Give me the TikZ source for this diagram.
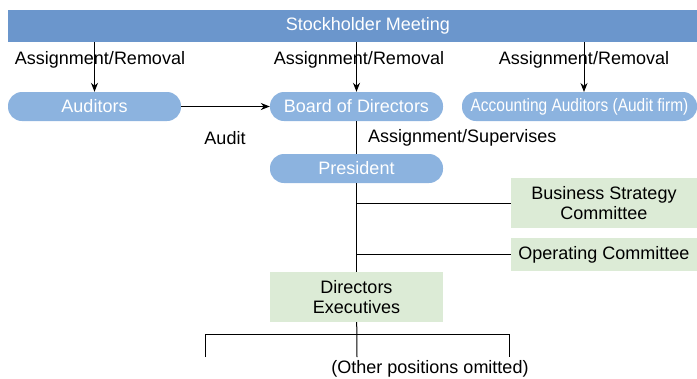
\documentclass[tikz,border=0pt]{standalone}
\usepackage{fontspec}
\setmainfont{Liberation Sans}
\usetikzlibrary{arrows.meta}
\definecolor{BarBlue}{HTML}{6B96CC}
\definecolor{PillBlue}{HTML}{8CB3DF}
\definecolor{BoxGreen}{HTML}{DCEBD6}
\tikzset{
    bar/.style={rectangle, fill=BarBlue, minimum width = 689pt,
                minimum height = 32pt, inner sep = 0},
    pill/.style={rectangle, rounded corners = 14pt, fill=PillBlue,
                minimum width = 173pt, minimum height = 29pt, inner sep = 0,
                text=white},
    greenbox/.style={rectangle, fill=BoxGreen, minimum width = 173pt,
                minimum height = 50pt, inner sep = 0, align=center},
    lbl/.style={inner sep = 0, anchor=center},
    link/.style={line width=1pt},
    arrowlink/.style={line width=1pt, -{Stealth[length=9pt, width=7pt]}},
}
\newcommand{\bigfont}{\fontsize{18}{20.5}\selectfont}
\begin{document}
\begin{tikzpicture}[x=1pt, y=-1pt, font=\bigfont]
        \useasboundingbox (0,0) rectangle (697,378);
        % Top bar
        \node[bar] (meeting) at (352.5,26) {};
        \node[lbl, text=white] (meetingtext) at (368,26) {Stockholder Meeting};
        %
        % First row
        \node[pill] (auditors) at (94.5,106.5) {Auditors};
        \node[pill] (board) at (356.5,106.5) {Board of Directors};
        \node[pill, minimum width = 235pt] (accounting) at (579.5,106.5)
            {\scalebox{0.86}[1]{Accounting Auditors (Audit firm)}};
        \coordinate (accin) at (584,92);
        %
        % Assignment arrows
        \draw[arrowlink] (meeting.south -| auditors) -- (auditors);
        \draw[arrowlink] (meeting.south -| board) -- (board);
        \draw[arrowlink] (meeting.south -| accin) -- (accin);
        \node[lbl] (assign1) at (100,60) {Assignment/Removal};
        \node[lbl] (assign2) at (359,60) {Assignment/Removal};
        \node[lbl] (assign3) at (584,60) {Assignment/Removal};
        %
        % Audit
        \draw[arrowlink] (auditors) -- (board);
        \node[lbl] (audit) at (225,138) {Audit};
        %
        % President
        \node[pill] (president) at (356.5,168.5) {President};
        \draw[link] (board) -- (president);
        \node[lbl, anchor=west] (supervise) at (368,138) {Assignment/Supervises};
        %
        % Committees
        \node[greenbox, minimum width = 186pt] (strategy) at (604,203)
            {Business Strategy\\Committee};
        \node[greenbox, minimum width = 186pt, minimum height = 33pt]
            (operating) at (604,254.5) {Operating Committee};
        \node[greenbox] (executives) at (356.5,297) {Directors\\Executives};
        \draw[link] (president) -- (executives);
        \draw[link] (strategy.west) -- (strategy.west -| president);
        \draw[link] (operating.west) -- (operating.west -| president);
        %
        % Other positions
        \coordinate (leftend) at (205,357);
        \coordinate (midend) at (357,357);
        \coordinate (rightend) at (509,357);
        \coordinate (branch) at (357,334);
        \draw[link] (executives) -- (midend);
        \draw[link] (leftend) -- (leftend |- branch) -- (rightend |- branch) -- (rightend);
        \node[lbl] (omitted) at (430,369) {(Other positions omitted)};
    \end{tikzpicture}
\end{document}
